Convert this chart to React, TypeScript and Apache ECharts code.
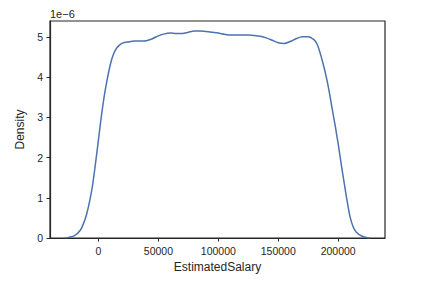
import React, { useEffect, useRef } from "react";
import * as echarts from "echarts";

const salary = [
  -27750, -25000, -20000, -15000, -12500, -10000, -7500, -5000, -2500, 0, 2500, 5000, 7500, 10000,
  12500, 15000, 17500, 20000, 25000, 30000, 35000, 40000, 45000, 50000, 55000, 60000, 65000,
  70000, 75000, 80000, 85000, 90000, 95000, 100000, 105000, 110000, 115000, 120000, 125000,
  130000, 135000, 140000, 145000, 150000, 155000, 160000, 165000, 170000, 175000, 180000,
  182500, 185000, 187500, 190000, 192500, 195000, 197500, 200000, 202500, 205000, 207500,
  210000, 212500, 215000, 220000, 226400,
];
const density = [
  0.0, 0.015, 0.06, 0.2, 0.36, 0.58, 0.9, 1.3, 1.85, 2.45, 3.05, 3.57, 3.98, 4.33,
  4.57, 4.72, 4.8, 4.85, 4.88, 4.9, 4.9, 4.91, 4.96, 5.03, 5.08, 5.1, 5.09,
  5.09, 5.12, 5.15, 5.15, 5.14, 5.12, 5.1, 5.07, 5.05, 5.05, 5.05, 5.05,
  5.04, 5.02, 4.98, 4.92, 4.86, 4.84, 4.89, 4.96, 5.01, 5.01, 4.93,
  4.82, 4.6, 4.33, 4.02, 3.65, 3.22, 2.8, 2.35, 1.85, 1.38, 0.92,
  0.52, 0.28, 0.15, 0.045, 0.0,
];
const xTicks = [0, 50000, 100000, 150000, 200000];
const yTicks = [0, 1, 2, 3, 4, 5];

const ink = "#262626";
const font = "'Liberation Sans', Arial, sans-serif";

export default function App() {
  const ref = useRef<HTMLDivElement>(null);
  useEffect(() => {
    const chart = echarts.init(ref.current!, null, { renderer: "svg" });
    chart.setOption({
      animation: false,
      textStyle: { fontFamily: font, color: ink },
      grid: {
        left: 50,
        top: 21,
        right: 50,
        bottom: 45,
        show: true,
        borderColor: ink,
        borderWidth: 1.2,
        backgroundColor: "#fff",
      },
      graphic: [
        {
          type: "text",
          left: 50,
          top: 8,
          style: { text: "1e\u22126", fontSize: 11, fontFamily: font, fill: ink },
        },
      ],
      xAxis: {
        type: "value",
        min: -40450,
        max: 239100,
        name: "EstimatedSalary",
        nameLocation: "middle",
        nameGap: 21,
        nameTextStyle: { fontSize: 12, color: ink, fontFamily: font },
        splitLine: { show: false },
        axisLine: { show: true, onZero: false, lineStyle: { color: ink, width: 1.2 } },
        axisTick: {
          show: true,
          length: 3.5,
          lineStyle: { color: ink, width: 1 },
          customValues: xTicks,
        },
        axisLabel: {
          fontSize: 10.5,
          color: ink,
          margin: 7,
          fontFamily: font,
          customValues: xTicks,
          formatter: (v: number) => String(v),
        },
      },
      yAxis: {
        type: "value",
        min: 0,
        max: 5.4,
        name: "Density",
        nameLocation: "middle",
        nameGap: 17,
        nameTextStyle: { fontSize: 12, color: ink, fontFamily: font },
        splitLine: { show: false },
        axisLine: { show: true, onZero: false, lineStyle: { color: ink, width: 1.2 } },
        axisTick: {
          show: true,
          length: 3.5,
          lineStyle: { color: ink, width: 1 },
          customValues: yTicks,
        },
        axisLabel: {
          fontSize: 10.5,
          color: ink,
          margin: 7,
          fontFamily: font,
          customValues: yTicks,
          formatter: (v: number) => String(v),
        },
      },
      series: [
        {
          type: "line",
          data: salary.map((x, i) => [x, density[i]]),
          showSymbol: false,
          smooth: 0.3,
          lineStyle: { color: "#4C72B0", width: 1.5 },
          itemStyle: { color: "#4C72B0" },
        },
      ],
    });
    return () => chart.dispose();
  }, []);
  return (
    <div
      ref={ref}
      style={{ position: "absolute", left: 0, top: 0, width: 435, height: 283, background: "#fff" }}
    />
  );
}
